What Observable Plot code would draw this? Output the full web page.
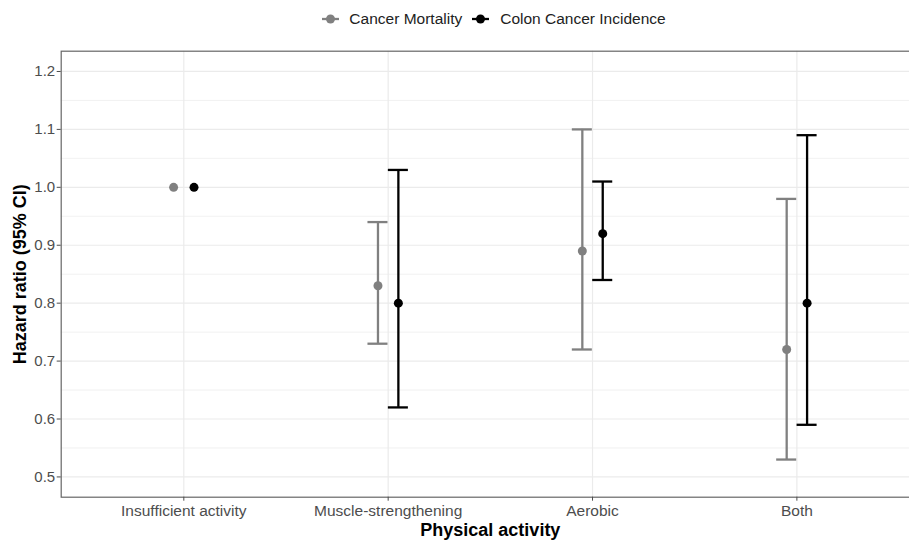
<!DOCTYPE html>
<html>
<head>
<meta charset="utf-8">
<script src="https://cdn.jsdelivr.net/npm/d3@7"></script>
<script src="https://cdn.jsdelivr.net/npm/@observablehq/plot@0.6"></script>
<style>
  html, body { margin: 0; padding: 0; background: #fff; }
  body { width: 909px; height: 541px; overflow: hidden; font-family: "Liberation Sans", Arial, sans-serif; }
  #legend { height: 38px; display: flex; align-items: center; justify-content: center; padding-left: 79px; box-sizing: border-box; width: 909px; font-size: 15.5px; color: #222; }
  #legend .item { display: flex; align-items: center; }
  #legend svg { display: block; }
</style>
</head>
<body>
<div id="legend"></div>
<div id="chart"></div>
<script>
const categories = ["Insufficient activity", "Muscle-strengthening", "Aerobic", "Both"];
const series = ["Cancer Mortality", "Colon Cancer Incidence"];
const seriesColors = ["#808080", "#000000"];

const mortalityHR   = [1.00, 0.83, 0.89, 0.72];
const mortalityLow  = [null, 0.73, 0.72, 0.53];
const mortalityHigh = [null, 0.94, 1.10, 0.98];

const colonHR   = [1.00, 0.80, 0.92, 0.80];
const colonLow  = [null, 0.62, 0.84, 0.59];
const colonHigh = [null, 1.03, 1.01, 1.09];

const yTicks = [0.5, 0.6, 0.7, 0.8, 0.9, 1.0, 1.1, 1.2];
const yMinorTicks = [0.55, 0.65, 0.75, 0.85, 0.95, 1.05, 1.15];

const seriesValues = [
  {hr: mortalityHR, lo: mortalityLow, hi: mortalityHigh},
  {hr: colonHR, lo: colonLow, hi: colonHigh}
];
const rows = [];
series.forEach((s, si) => {
  categories.forEach((c, i) => {
    rows.push({series: s, category: c, i, hr: seriesValues[si].hr[i], lo: seriesValues[si].lo[i], hi: seriesValues[si].hi[i]});
  });
});

// legend
const legend = document.getElementById("legend");
series.forEach((s, si) => {
  const item = document.createElement("div");
  item.className = "item";
  item.style.marginLeft = si === 0 ? "0px" : "10px";
  item.innerHTML = `<svg width="17" height="12"><line x1="0" x2="17" y1="6" y2="6" stroke="${seriesColors[si]}" stroke-width="2.3"/><circle cx="8.5" cy="6" r="4.5" fill="${seriesColors[si]}"/></svg><span style="margin-left:${si === 0 ? 10 : 11}px">${s}</span>`;
  legend.appendChild(item);
});

const dodge = [-10.2, 10.2];
const capHalf = 0.049;
const barMarks = [];
series.forEach((s, si) => {
  const data = rows.filter(d => d.series === s);
  const withCI = data.filter(d => d.lo != null);
  barMarks.push(
    Plot.ruleX(withCI, {x: "i", y1: "lo", y2: "hi", stroke: "series", strokeWidth: 2.3, dx: dodge[si]}),
    Plot.ruleY(withCI, {y: "lo", x1: d => d.i - capHalf, x2: d => d.i + capHalf, stroke: "series", strokeWidth: 2.3, dx: dodge[si]}),
    Plot.ruleY(withCI, {y: "hi", x1: d => d.i - capHalf, x2: d => d.i + capHalf, stroke: "series", strokeWidth: 2.3, dx: dodge[si]}),
    Plot.dot(data, {x: "i", y: "hr", fill: "series", r: 4.5, dx: dodge[si]})
  );
});

const plot = Plot.plot({
  width: 909,
  height: 503,
  marginLeft: 60.7,
  marginRight: -10,
  marginTop: 12.7,
  marginBottom: 44.3,
  x: {type: "linear", domain: [-0.6, 3.6], axis: null},
  y: {domain: [0.465, 1.235], axis: null},
  color: {domain: series, range: seriesColors},
  style: {fontFamily: "'Liberation Sans', Arial, sans-serif", background: "white", overflow: "hidden"},
  marks: [
    Plot.ruleY(yMinorTicks, {stroke: "#EBEBEB", strokeWidth: 0.7}),
    Plot.ruleY(yTicks, {stroke: "#EBEBEB", strokeWidth: 1.2}),
    Plot.ruleX(categories.map((c, i) => i), {stroke: "#EBEBEB", strokeWidth: 1.2}),
    ...barMarks,
    Plot.frame({stroke: "#666", strokeWidth: 1.2}),
    Plot.axisY(yTicks, {tickSize: 4, tickPadding: 2, fontSize: 15, tickFormat: d3.format(".1f"), color: "#4D4D4D", label: null}),
    Plot.axisX(categories.map((c, i) => i), {tickSize: 4, tickPadding: 4, fontSize: 15.5, tickFormat: i => categories[i], color: "#4D4D4D", label: null}),
    Plot.text(["Hazard ratio (95% CI)"], {text: d => d, frameAnchor: "left", dx: -41, rotate: -90, fontSize: 18, fontWeight: "bold", fill: "black", textAnchor: "middle", lineAnchor: "middle"}),
    Plot.text(["Physical activity"], {text: d => d, frameAnchor: "bottom", dy: 33.3, fontSize: 18, fontWeight: "bold", fill: "black", textAnchor: "middle", lineAnchor: "middle"})
  ]
});
document.getElementById("chart").appendChild(plot);
</script>
</body>
</html>
